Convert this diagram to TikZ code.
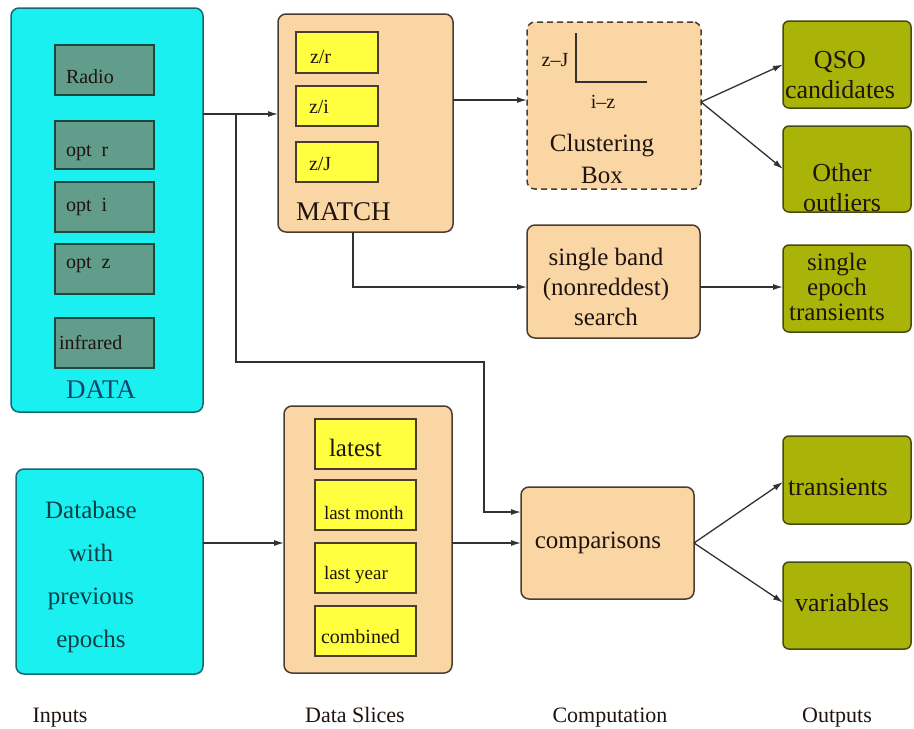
\documentclass[tikz,border=0pt]{standalone}
\usepackage{fontspec}
\setmainfont{Liberation Serif}
\usetikzlibrary{arrows.meta}
\definecolor{cyanf}{RGB}{26,240,240}
\definecolor{cyand}{RGB}{20,105,110}
\definecolor{tealf}{RGB}{98,156,138}
\definecolor{teald}{RGB}{30,72,62}
\definecolor{wheatf}{RGB}{250,214,164}
\definecolor{wheatd}{RGB}{75,60,50}
\definecolor{yelf}{RGB}{255,255,64}
\definecolor{olivef}{RGB}{170,180,8}
\definecolor{olived}{RGB}{70,75,15}
\definecolor{linec}{RGB}{50,50,50}
\definecolor{datac}{RGB}{20,70,110}
\definecolor{dbc}{RGB}{15,60,70}
\definecolor{txt}{RGB}{30,20,15}
\tikzset{
  box/.style={rectangle, inner sep=0pt, outer sep=0pt, line width=1.5pt},
  bigcyan/.style={box, rounded corners=8pt, fill=cyanf, draw=cyand},
  databox/.style={box, fill=tealf, draw=teald},
  wheat/.style={box, rounded corners=8pt, fill=wheatf, draw=wheatd},
  ybox/.style={box, fill=yelf, draw=wheatd},
  gbox/.style={box, rounded corners=6pt, fill=olivef, draw=olived},
  txtnode/.style={inner sep=0pt, outer sep=0pt, text=txt},
  arr/.style={draw=linec, line width=1.3pt, -{Latex[length=10pt,width=6pt]}},
}
\newcommand\fbig{\fontsize{25}{30}\selectfont}
\newcommand\fmid{\fontsize{20}{24}\selectfont}
\newcommand\flab{\fontsize{22}{26}\selectfont}
\begin{document}
\begin{tikzpicture}[x=1pt,y=-1pt]
\useasboundingbox (0,0) rectangle (914,729);
\fill[white] (0,0) rectangle (914,729);

% ---------- DATA ----------
\node[bigcyan, minimum width=192pt, minimum height=404pt] (data) at (107,210) {};
\node[databox, minimum width=99pt, minimum height=50pt] (radio) at (104.5,70) {};
\node[databox, minimum width=99pt, minimum height=48pt] (optr) at (104.5,145) {};
\node[databox, minimum width=99pt, minimum height=50pt] (opti) at (104.5,207) {};
\node[databox, minimum width=99pt, minimum height=50pt] (optz) at (104.5,269) {};
\node[databox, minimum width=99pt, minimum height=50pt] (infra) at (104.5,343) {};
\node[txtnode, anchor=west, font=\fmid] (radiot) at (66,77) {Radio};
\node[txtnode, anchor=west, font=\fmid] (optrt) at (66,153) {opt\ \ r};
\node[txtnode, anchor=west, font=\fmid] (optit) at (66,207) {opt\ \ i};
\node[txtnode, anchor=west, font=\fmid] (optzt) at (66,265) {opt\ \ z};
\node[txtnode, anchor=west, font=\fmid] (infrat) at (59,343) {infrared};
\node[txtnode, text=datac, font=\fontsize{27}{30}\selectfont] (datat) at (101,390) {DATA};

% ---------- MATCH ----------
\node[wheat, minimum width=175pt, minimum height=218pt] (match) at (365.5,123) {};
\node[ybox, minimum width=82pt, minimum height=41pt] (zr) at (337,52.5) {};
\node[ybox, minimum width=82pt, minimum height=40pt] (zi) at (337,106) {};
\node[ybox, minimum width=82pt, minimum height=40pt] (zj) at (337,162) {};
\node[txtnode, anchor=west, font=\fmid] (zrt) at (310,57) {z/r};
\node[txtnode, anchor=west, font=\fmid] (zit) at (309,107) {z/i};
\node[txtnode, anchor=west, font=\fmid] (zjt) at (309,164) {z/J};
\node[txtnode, anchor=west, font=\fontsize{27}{30}\selectfont] (matcht) at (296,212) {MATCH};

% ---------- Clustering ----------
\node[wheat, dashed, dash pattern=on 6pt off 4pt, minimum width=174pt, minimum height=167pt] (clus) at (614,105.5) {};
\node[txtnode, font=\fmid] (zjl) at (555,60) {z–J};
\node[txtnode, font=\fmid] (izl) at (603,102) {i–z};
\draw[draw=linec, line width=1.1pt] (576,33) -- (576,82) -- (647,82);
\node[txtnode, align=center, font=\fontsize{25}{32}\selectfont] (clust) at (602,159) {Clustering\\Box};

% ---------- single band ----------
\node[wheat, minimum width=173pt, minimum height=113pt] (single) at (613.5,281.5) {};
\node[txtnode, align=center, font=\fontsize{25}{30}\selectfont] (singlet) at (606,287) {single band\\(nonreddest)\\search};

% ---------- Outputs top ----------
\node[gbox, minimum width=128pt, minimum height=87pt] (qso) at (847,64.5) {};
\node[txtnode, align=center, font=\fontsize{26}{30}\selectfont] (qsot) at (840,75) {QSO\\candidates};
\node[gbox, minimum width=128pt, minimum height=86pt] (oth) at (847,169) {};
\node[txtnode, align=center, font=\fontsize{26}{30}\selectfont] (otht) at (842,188) {Other\\outliers};
\node[gbox, minimum width=128pt, minimum height=87pt] (sep) at (847,288.5) {};
\node[txtnode, align=center, font=\fontsize{25}{25}\selectfont] (sept) at (837,287) {single\\epoch\\transients};

% ---------- Database ----------
\node[bigcyan, minimum width=187pt, minimum height=205pt] (db) at (109.5,571.5) {};
\node[txtnode, text=dbc, align=center, font=\fontsize{25}{43}\selectfont] (dbt) at (91,577) {Database\\with\\previous\\epochs};

% ---------- Data slices ----------
\node[wheat, minimum width=168pt, minimum height=267pt] (ds) at (368,539.5) {};
\node[ybox, minimum width=101pt, minimum height=50pt] (latest) at (365.5,444) {};
\node[ybox, minimum width=101pt, minimum height=50pt] (lmonth) at (365.5,505) {};
\node[ybox, minimum width=101pt, minimum height=50pt] (lyear) at (365.5,568) {};
\node[ybox, minimum width=101pt, minimum height=50pt] (comb) at (365.5,631) {};
\node[txtnode, anchor=west, font=\fbig] (latestt) at (329,448) {latest};
\node[txtnode, anchor=west, font=\fontsize{19}{22}\selectfont] (lmontht) at (324,513) {last month};
\node[txtnode, anchor=west, font=\fontsize{19}{22}\selectfont] (lyeart) at (324,575) {last year};
\node[txtnode, anchor=west, font=\fontsize{20}{22}\selectfont] (combt) at (321,637) {combined};

% ---------- comparisons ----------
\node[wheat, minimum width=173pt, minimum height=112pt] (comp) at (607.5,543) {};
\node[txtnode, font=\fbig] (compt) at (598,543) {comparisons};

% ---------- Outputs bottom ----------
\node[gbox, minimum width=128pt, minimum height=88pt] (trans) at (847,480) {};
\node[txtnode, font=\fontsize{26}{30}\selectfont] (transt) at (838,487) {transients};
\node[gbox, minimum width=128pt, minimum height=87pt] (var) at (847,605.5) {};
\node[txtnode, font=\fontsize{26}{30}\selectfont] (vart) at (842,603) {variables};

% ---------- column labels ----------
\node[txtnode, anchor=base, font=\flab] (linp) at (60,722) {Inputs};
\node[txtnode, anchor=base, font=\flab] (lds) at (355,722) {Data Slices};
\node[txtnode, anchor=base, font=\flab] (lcomp) at (610,722) {Computation};
\node[txtnode, anchor=base, font=\flab] (lout) at (837,722) {Outputs};

% ---------- connectors ----------
\coordinate (j1) at (236,114);
\coordinate (j2) at (236,362);
\coordinate (j3) at (484,362);
\coordinate (j4) at (484,512);
\coordinate (m1) at (453,100);
\coordinate (m2) at (353,287);
\coordinate (d1) at (300,543);
\draw[arr] (data.east |- j1) -- (match.west |- j1);
\draw[arr] (j1) -- (j2) -- (j3) -- (j4) -- (comp.west |- j4);
\draw[arr] (match.east |- m1) -- (clus.west |- m1);
\draw[arr] (match.south -| m2) -- (m2) -- (single.west |- m2);
\draw[arr] (single.east |- m2) -- (sep.west |- m2);
\coordinate (c1) at ([yshift=3.5pt]clus.east);
\draw[arr] (c1) -- (qso.west);
\draw[arr] (c1) -- (oth.west);
\draw[arr] (db.east |- d1) -- (ds.west |- d1);
\draw[arr] (ds.east |- d1) -- (comp.west);
\draw[arr] (comp.east) -- ([yshift=-2pt]trans.west);
\draw[arr] (comp.east) -- ([yshift=3pt]var.west);
\end{tikzpicture}
\end{document}
